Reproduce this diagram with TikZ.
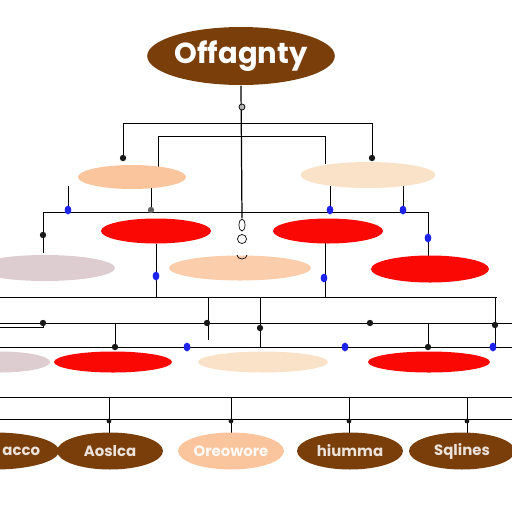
\documentclass[tikz,border=0pt]{standalone}
\usepackage{fontspec}
\newfontfamily\titlefont{Poppins}
\usetikzlibrary{shapes.geometric,backgrounds}
\definecolor{bark}{RGB}{122,62,10}
\definecolor{cherry}{RGB}{250,8,4}
\definecolor{apricot}{RGB}{250,196,156}
\definecolor{cream}{RGB}{250,226,200}
\definecolor{mauve}{RGB}{222,205,208}
\definecolor{ink}{RGB}{25,25,25}
\definecolor{cobalt}{RGB}{30,35,235}

\begin{document}
\begin{tikzpicture}[x=0.02cm, y=-0.02cm, line width=1.1pt,
    oval/.style 2 args={ellipse, inner sep=0pt, minimum width=#1*0.02cm, minimum height=#2*0.02cm},
    leaf/.style={oval={106}{37}, fill=bark, text=white!85!bark,
      font=\titlefont\bfseries\fontsize{8.5}{8.5}\selectfont}]
        \useasboundingbox (0,0) rectangle (512,512);
        \clip (0,0) rectangle (512,512);
        % title
        \node[oval={172}{58}, fill=bark, text=white,
          font=\titlefont\bfseries\fontsize{16.5}{16.5}\selectfont] (root) at (241,56) {Offagnty};
        % second and third rows
        \node[oval={108}{24}, fill=apricot] (a1) at (132,177) {};
        \node[oval={135}{26}, fill=cream] (a2) at (368,175) {};
        \node[oval={110}{25}, fill=cherry] (b1) at (156,231) {};
        \node[oval={110}{25}, fill=cherry] (b2) at (328,231) {};
        \node[oval={140}{26}, fill=mauve] (c1) at (45,268) {};
        \node[oval={142}{25}, fill=apricot!85!white] (c2) at (240,268) {};
        \node[oval={118}{27}, fill=cherry] (c3) at (430,269) {};
        \node[oval={100}{21}, fill=mauve] (d1) at (0,362) {};
        \node[oval={118}{21}, fill=cherry] (d2) at (113,362) {};
        \node[oval={130}{21}, fill=cream] (d3) at (263,362) {};
        \node[oval={122}{21}, fill=cherry] (d4) at (429,362) {};
        % bottom row
        \node[leaf] (e1) at (-5,451) {\hspace*{30pt}acco};
        \node[leaf] (e2) at (110,451) {Aoslca};
        \node[leaf, fill=apricot, text=white!90!apricot] (e3) at (231,451) {Oreowore};
        \node[leaf] (e4) at (350,451) {hiumma};
        \node[leaf] (e5) at (462,451) {Sqlines};

        \begin{scope}[on background layer, draw=ink]
          \coordinate (knot) at (242,218);
          \draw[line width=0.7pt] (root.south) -- (knot);
          \draw (123,158) -- (123,123) -- (372,123) -- (372,158);
          \draw (158,167) -- (158,136) -- (325,136) -- (325,164);
          \foreach \x in {68,151,330,403}
            \draw (\x,186) -- (\x,212);
          \draw (43,253) -- (43,212) -- (428,212) -- (428,256);
          \draw (b1.south) -- (156,297);
          \draw (325,243) -- (325,297);
          \draw (0,297) -- (497,297);
          \draw (208,297) -- (208,340);
          \draw (260,297) -- (260,347);
          \draw (495,297) -- (495,347);
          \draw (0,327) -- (43,327) -- (43,323);
          \foreach \y in {323,347,397,419}
            \draw (0,\y) -- (512,\y);
          \draw (115,323) -- (115,347);
          \draw (428,323) -- (428,347);
          \foreach \x/\n in {109/e2,231/e3,349/e4,467/e5}
            \draw (\x,397) -- (\x,433);
        \end{scope}

        % odd marks on the trunk
        \draw[thin, fill=gray!60] (242,107) circle (3);
        \draw[thin] (242,225) ellipse (3 and 6);
        \draw[thin] (242,239) circle (4.5);
        \draw[thin] (237,255) arc (180:0:5 and 4);
        % joints
        \foreach \p in {(123,158),(372,158),(43,235),(43,323),(207,323),(260,328),
                        (370,323),(495,325),(115,347),(428,347)}
          \fill[ink] \p circle (3.2);
        \fill[gray!70!ink] (151,210) circle (3.2);
        \foreach \p in {(68,210),(330,210),(403,210),(428,238),(156,276),(324,278),
                        (187,347),(345,347),(493,347)}
          \fill[cobalt] \p ellipse (3.4 and 4.4);
        \foreach \x in {109,231,349,467}
          \fill[ink] (\x,421) circle (2.4);
      \end{tikzpicture}
\end{document}
